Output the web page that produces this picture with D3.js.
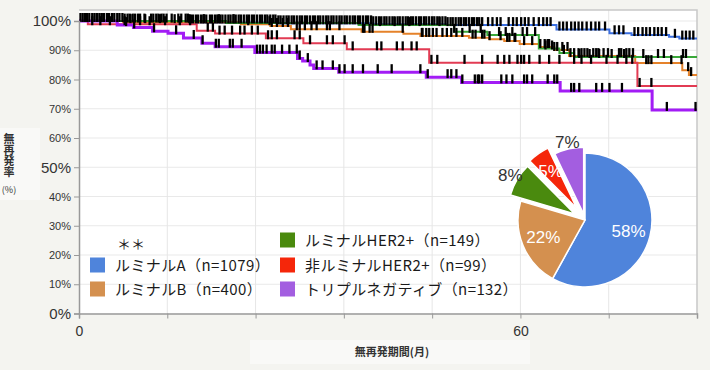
<!DOCTYPE html>
<html>
<head>
<meta charset="utf-8">
<script src="https://cdn.jsdelivr.net/npm/d3@7"></script>
<style>
  body { margin: 0; background: #f4f4f0; }
  svg { display: block; }
</style>
</head>
<body>
<svg width="710" height="370"></svg>
<script>
// ---- data ----
const groups = ['ルミナルA', 'ルミナルB', 'ルミナルHER2+', '非ルミナルHER2+', 'トリプルネガティブ'];
const counts = [1079, 400, 149, 99, 132];
const piePct = [58, 22, 8, 5, 7];

const yTicks = [0, 10, 20, 30, 40, 50, 60, 70, 80, 90, 100];
const xTicks = [0, 12, 24, 36, 48, 60, 72, 84];
const xLabels = { 0: '0', 60: '60' };

// Kaplan-Meier steps: [month, relapse-free %]
const stepsA = [[0, 100], [6, 99.8], [15, 99.5], [27, 99.2], [40, 98.9], [50, 98.6], [64.9, 97.1], [72.1, 95.8], [75.1, 95.2], [80.2, 94.6], [81.6, 94.0]];
const stepsB = [[0, 100], [6, 99.6], [22, 98.9], [26, 98.3], [28.8, 97.2], [38.4, 96.3], [44.1, 95.6], [46.4, 94.9], [53, 94.3], [55.8, 93.8], [57.8, 93.2], [59.9, 92.1], [62.6, 91.1], [64.6, 90.1], [66.6, 88.0], [75.6, 85.6], [82, 83.2], [82.9, 81.5]];
const stepsC = [[0, 100], [20, 99.3], [38, 98.6], [51, 96.3], [55.5, 95.2], [62.5, 90.6], [65.3, 89.1], [67.3, 87.7]];
const stepsD = [[0, 100], [1.2, 98.9], [16, 96.7], [18.5, 95.7], [25.4, 94.1], [30.5, 92.4], [36.4, 90.3], [47.6, 85.7], [75.9, 77.8]];
const stepsE = [[0, 100], [5.2, 98.6], [7.4, 97.8], [10, 96.5], [12.1, 95.8], [14.2, 94.2], [16.7, 92.4], [18.5, 91.2], [23.9, 89.2], [29.7, 87.2], [30.4, 86.3], [31.4, 85.0], [31.9, 83.8], [35.3, 82.5], [47.2, 80.8], [52, 79.0], [65.4, 76.1], [77.9, 69.6]];

// censoring times (months)
const censorA = [0.2,0.5,0.8,1.1,1.4,1.8,2.1,2.4,2.8,3.1,3.4,3.8,4.1,4.5,4.8,5.2,5.9,6.2,6.6,6.9,7.3,7.6,8.0,8.3,8.9,9.8,10.1,10.5,10.8,11.2,11.5,11.9,12.6,13.5,13.9,14.5,14.8,15.2,15.5,15.9,16.2,16.6,16.9,17.3,17.8,18.1,18.5,18.8,19.2,19.5,19.9,20.3,20.6,21.0,21.3,21.7,22.0,22.4,22.8,23.1,23.5,23.8,24.2,24.6,24.9,25.3,25.6,26.0,26.4,26.7,27.1,27.4,27.8,28.2,28.5,28.9,29.2,29.6,30.0,30.3,30.7,31.0,31.4,31.8,32.1,32.5,32.8,33.2,33.6,33.9,34.3,34.6,35.0,35.4,35.7,36.1,36.4,36.8,37.2,37.5,37.9,38.2,38.6,39.0,39.3,39.7,40.0,40.4,40.8,41.1,41.5,41.8,42.2,42.6,42.9,43.3,43.6,44.0,44.4,44.7,45.1,45.4,45.8,46.2,46.5,46.9,47.2,47.6,48.0,48.3,48.7,49.0,49.4,49.8,50.1,50.5,50.8,51.2,51.6,51.9,52.3,52.6,53.0,53.4,53.7,54.1,54.4,54.8,55.6,56.2,56.8,57.3,58.4,59.0,59.5,60.1,60.6,61.1,61.8,62.5,63.1,63.6,64.1,65.3,65.8,66.3,66.9,67.4,67.9,68.4,69.0,69.6,70.2,70.7,71.5,72.8,73.4,74.0,75.5,76.0,76.6,77.1,77.6,78.2,78.7,79.2,79.8,81.0,82.0,82.5,83.0,83.5];
const censorB = [1,2.5,4,5.5,7,9,11,13,15,17,19,21,23,25.9,26.2,26.9,27.7,28.4,29.6,30.0,30.7,31.6,32.3,33.7,34.1,35.4,38.6,38.8,39.5,39.9,44.0,46.6,46.7,47.2,47.6,48.1,48.6,49.4,50.0,50.6,51.3,52.1,53.5,53.9,54.8,55.1,55.8,57.3,58.2,58.5,59.2,59.3,60.5,61.6,62.7,63.3,63.7,63.9,64.6,65.0,65.7,66.4,66.8,67.3,67.9,68.3,68.7,69.1,69.9,70.3,70.6,71.3,71.9,73.4,73.7,74.4,74.8,75.3,77.1,77.4,77.8,80.5,81.9,82.8,83.2];
const censorC = [40.9,42.9,44.9,46.3,49.0,51.0,53.1,54.6,57.1,58.0,58.9,60.3,60.9,62.0,63.4,64.3,65.9,68.0,69.4,70.7,72.4,74.1,76.7,78.7,79.5,82.1,82.5];
const censorD = [1.8,2.9,4.2,6.2,8.3,9.6,11.7,13.7,15.1,17.5,18.2,19.1,19.8,20.8,21.9,22.5,23.5,24.3,25.7,26.2,26.9,29.3,30.0,31.4,33.7,34.5,36.1,37.2,40.5,41.1,43.2,44.0,45.2,45.9,47.9,48.7,52.4,54.8,56.9,57.8,58.5,59.6,60.1,60.5,61.2,62.6,63.9,65.3,67.3,68.3,69.6,71.7,73.2,74.4,75.2,76.2,77.8];
const censorE = [6.4,7.5,10.2,13.2,15.6,16.8,18.6,19.0,20.5,20.9,22.1,24.2,24.6,25.0,25.5,26.2,26.6,27.6,28.6,29.6,30.0,31.1,32.3,33.1,34.5,35.4,36.1,37.2,38.6,40.6,42.5,46.4,47.4,50.1,50.6,51.3,52.1,53.8,54.2,54.4,54.8,57.4,58.1,58.9,60.5,60.9,61.6,63.7,64.6,65.0,66.9,67.3,68.0,70.3,71.1,72.1,73.8,79.9,83.8];

const lineColors = ['#3b6fe0', '#e5822a', '#3aa83a', '#e23b53', '#a21cf5'];
const lineWidths = [2, 2, 2, 2, 3];
const pieColors = ['#4f84db', '#d4904f', '#4a8a0e', '#f5260a', '#a35ee0'];

const allSteps = [stepsA, stepsB, stepsC, stepsD, stepsE];
const allCensor = [censorA, censorB, censorC, censorD, censorE];

// ---- layout ----
const svg = d3.select('svg');
const plotL = 79, plotR = 697, plotT = 10, plotB = 313.5;
const x = d3.scaleLinear().domain([0, 84]).range([plotL, plotR]);
const y = d3.scaleLinear().domain([0, 100]).range([plotB, 21]);

// title backdrops
svg.append('rect').attr('x', 0).attr('y', 128).attr('width', 40).attr('height', 72).attr('fill', '#f9f9f7');
svg.append('rect').attr('x', 250).attr('y', 340).attr('width', 280).attr('height', 24).attr('fill', '#f9f9f7');

// plot background
svg.append('rect').attr('x', plotL).attr('y', plotT).attr('width', plotR - plotL).attr('height', plotB - plotT).attr('fill', '#fff');

// grid
svg.append('g')
  .selectAll('line').data(yTicks.slice(1)).join('line')
  .attr('x1', plotL).attr('x2', plotR).attr('y1', d => y(d)).attr('y2', d => y(d))
  .attr('stroke', '#e9e9e9').attr('stroke-width', 1);
svg.append('g')
  .selectAll('line').data(xTicks.slice(1, -1)).join('line')
  .attr('x1', d => x(d)).attr('x2', d => x(d)).attr('y1', plotT).attr('y2', plotB)
  .attr('stroke', '#e6e6e6').attr('stroke-width', 1);

// frame top/right
svg.append('path').attr('d', `M${plotL},${plotT}H${plotR}V${plotB}`).attr('fill', 'none').attr('stroke', '#c8c8c8').attr('stroke-width', 1.5);

// curves
const stepLine = d3.line().x(d => x(d[0])).y(d => y(d[1])).curve(d3.curveStepAfter);
allSteps.forEach((steps, i) => {
  const pts = steps.concat([[84, steps[steps.length - 1][1]]]);
  svg.append('path').datum(pts)
    .attr('d', stepLine)
    .attr('fill', 'none')
    .attr('stroke', lineColors[i])
    .attr('stroke-width', lineWidths[i]);
});

// censor marks
function survAt(steps, t) {
  let v = steps[0][1];
  for (const s of steps) { if (s[0] <= t) v = s[1]; }
  return v;
}
const marks = svg.append('g');
[4, 3, 2, 1, 0].forEach(i => {
  marks.append('g').selectAll('line').data(allCensor[i]).join('line')
    .attr('x1', d => x(d)).attr('x2', d => x(d))
    .attr('y1', d => y(survAt(allSteps[i], d)) - 8)
    .attr('y2', d => y(survAt(allSteps[i], d)) + 1)
    .attr('stroke', '#000').attr('stroke-width', 2.3);
});

// axes
const yAxis = svg.append('g').attr('transform', `translate(${plotL},0)`)
  .call(d3.axisLeft(y).tickValues(yTicks).tickFormat(d => d + '%').tickSize(5).tickPadding(3));
yAxis.select('.domain').attr('stroke', '#999').attr('stroke-width', 1.5);
yAxis.selectAll('.tick line').attr('stroke', '#999');
yAxis.selectAll('.tick text')
  .attr('font-family', 'Liberation Sans, Arial, sans-serif')
  .attr('font-size', d => (d % 50 === 0 ? 15 : 11))
  .attr('fill', '#333');

const xAxis = svg.append('g').attr('transform', `translate(0,${plotB})`)
  .call(d3.axisBottom(x).tickValues(xTicks).tickFormat(d => xLabels[d] || '').tickSize(5).tickPadding(8));
xAxis.select('.domain').attr('stroke', '#999').attr('stroke-width', 1.5);
xAxis.selectAll('.tick line').attr('stroke', '#999');
xAxis.selectAll('.tick text')
  .attr('font-family', 'Liberation Sans, Arial, sans-serif')
  .attr('font-size', 14).attr('fill', '#333');

// axis titles (y title stacked vertically)
svg.append('text').attr('x', 9).attr('y', 133)
  .style('writing-mode', 'vertical-rl')
  .attr('font-family', 'Noto Sans CJK JP').attr('font-weight', 'bold').attr('font-size', 11)
  .attr('fill', '#333').text('無再発率');
svg.append('text').attr('x', 9).attr('y', 193).attr('text-anchor', 'middle')
  .attr('font-family', 'Noto Sans CJK JP').attr('font-size', 9).attr('fill', '#333').text('(%)');
svg.append('text').attr('x', 392).attr('y', 356).attr('text-anchor', 'middle')
  .attr('font-family', 'Noto Sans CJK JP').attr('font-weight', 'bold').attr('font-size', 11)
  .attr('fill', '#333').text('無再発期間(月)');

// legend
const legendPos = [[90, 265], [90, 289], [280, 240], [280, 265], [280, 289]];
const legend = svg.append('g');
groups.forEach((g, i) => {
  const [lx, ly] = legendPos[i];
  legend.append('rect').attr('x', lx).attr('y', ly - 7.5).attr('width', 15).attr('height', 15).attr('fill', pieColors[i]);
  legend.append('text').attr('x', lx + 25).attr('y', ly + 5.5)
    .attr('font-family', 'Noto Sans CJK JP').attr('font-size', 15).attr('fill', '#1a1a1a')
    .attr('letter-spacing', 0.4)
    .text(`${g}（n=${counts[i]}）`);
});
legend.append('text').attr('x', 117).attr('y', 249)
  .attr('font-family', 'Noto Sans CJK JP').attr('font-size', 14).attr('fill', '#1a1a1a').text('＊＊');

// pie inset
const cx = 585, cy = 220, r = 67;
const explode = [0, 0, 12, 14, 6];
const labelR = [45, 45, 87, 60, 80];
const labelFill = ['#fff', '#fff', '#333', '#fff', '#333'];
const arcs = d3.pie().sort(null)(counts);
const arc = d3.arc().innerRadius(0).outerRadius(r);
const pieG = svg.append('g').attr('transform', `translate(${cx},${cy})`);
arcs.forEach((a, i) => {
  const mid = (a.startAngle + a.endAngle) / 2;
  const dx = Math.sin(mid) * explode[i], dy = -Math.cos(mid) * explode[i];
  pieG.append('path').attr('d', arc(a)).attr('transform', `translate(${dx},${dy})`)
    .attr('fill', pieColors[i]).attr('stroke', '#fff').attr('stroke-width', 1.5);
});
arcs.forEach((a, i) => {
  const mid = (a.startAngle + a.endAngle) / 2;
  pieG.append('text')
    .attr('x', Math.sin(mid) * labelR[i]).attr('y', -Math.cos(mid) * labelR[i])
    .attr('dy', '0.35em').attr('text-anchor', 'middle')
    .attr('font-family', 'Liberation Sans, Arial, sans-serif').attr('font-size', 17)
    .attr('fill', labelFill[i]).text(piePct[i] + '%');
});
</script>
</body>
</html>
